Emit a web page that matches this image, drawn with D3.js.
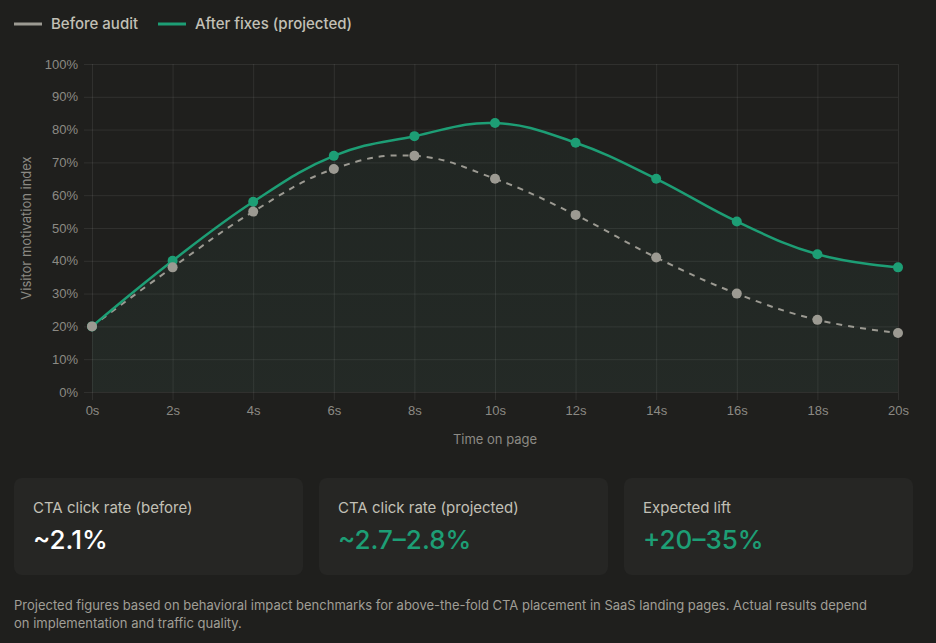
<!DOCTYPE html>
<html lang="en">
<head>
<meta charset="UTF-8">
<title>Visitor motivation</title>
<script src="https://d3js.org/d3.v7.min.js"></script>
<style>
  body, html { margin: 0; padding: 0; background: #1f1f1d; }
  svg { display: block; font-family: Inter, "Noto Sans", sans-serif; }
</style>
</head>
<body>
<script>
// chart data
const seconds = [0, 2, 4, 6, 8, 10, 12, 14, 16, 18, 20];
const beforeAudit = [20, 38, 55, 68, 72, 65, 54, 41, 30, 22, 18];
const afterFixes = [20, 40, 58, 72, 78, 82, 76, 65, 52, 42, 38];
const yTicks = [0, 10, 20, 30, 40, 50, 60, 70, 80, 90, 100];

const seriesNames = ["Before audit", "After fixes (projected)"];
const cardLabels = ["CTA click rate (before)", "CTA click rate (projected)", "Expected lift"];
const cardValues = ["~2.1%", "~2.7–2.8%", "+20–35%"];
const footnote = [
  "Projected figures based on behavioral impact benchmarks for above-the-fold CTA placement in SaaS landing pages. Actual results depend",
  "on implementation and traffic quality."
];

const width = 936, height = 643;
const green = "#1d9e75", gray = "#9c9a92";
const margin = { left: 92, right: 38, top: 64, bottom: 251 };

const svg = d3.select("body").append("svg")
  .attr("width", width).attr("height", height);

const x = d3.scaleLinear().domain([0, 20]).range([margin.left, width - margin.right]);
const y = d3.scaleLinear().domain([0, 100]).range([height - margin.bottom, margin.top]);

// gradient for the area under the projected line
const grad = svg.append("defs").append("linearGradient")
  .attr("id", "fillGrad").attr("x1", 0).attr("y1", 0).attr("x2", 0).attr("y2", 1);
grad.append("stop").attr("offset", "0%").attr("stop-color", "#3f8f76").attr("stop-opacity", 0.06);
grad.append("stop").attr("offset", "100%").attr("stop-color", "#4f8a77").attr("stop-opacity", 0.1);

// grid + axes
const gridColor = "rgba(255,255,255,0.08)";
const yAxis = svg.append("g")
  .attr("transform", `translate(${margin.left},0)`)
  .call(d3.axisLeft(y).tickValues(yTicks).tickFormat(d => d + "%")
    .tickSize(-(width - margin.left - margin.right)).tickPadding(14));
yAxis.select(".domain").remove();
yAxis.selectAll(".tick line").attr("stroke", gridColor).attr("x1", -8);
yAxis.selectAll(".tick text").attr("fill", "#8c8a84").style("font-size", "13px");

const xAxis = svg.append("g")
  .attr("transform", `translate(0,${y(0)})`)
  .call(d3.axisBottom(x).tickValues(seconds).tickFormat(d => d + "s")
    .tickSize(-(y(0) - margin.top)).tickPadding(14));
xAxis.select(".domain").remove();
xAxis.selectAll(".tick line").attr("stroke", gridColor).attr("y1", 8);
xAxis.selectAll(".tick text").attr("fill", "#8c8a84").style("font-size", "13px");

svg.append("text")
  .attr("x", (x(0) + x(20)) / 2).attr("y", 444)
  .attr("text-anchor", "middle").attr("fill", "#8c8a84")
  .style("font-size", "13px").text("Time on page");

svg.append("text")
  .attr("transform", `translate(31,${(y(0) + y(100)) / 2}) rotate(-90)`)
  .attr("text-anchor", "middle").attr("fill", "#8c8a84")
  .style("font-size", "13px").text("Visitor motivation index");

const curve = d3.curveCardinal.tension(-0.2);

// area under projected
svg.append("path")
  .datum(afterFixes)
  .attr("fill", "url(#fillGrad)")
  .attr("d", d3.area().x((d, i) => x(seconds[i])).y0(y(0)).y1(d => y(d)).curve(curve));

const line = d3.line().x((d, i) => x(seconds[i])).y(d => y(d)).curve(curve);

svg.append("path").datum(beforeAudit)
  .attr("fill", "none").attr("stroke", gray).attr("stroke-width", 2)
  .attr("stroke-dasharray", "6,6").attr("d", line);

svg.append("path").datum(afterFixes)
  .attr("fill", "none").attr("stroke", green).attr("stroke-width", 2.5)
  .attr("d", line);

svg.append("g").selectAll("circle").data(afterFixes).join("circle")
  .attr("cx", (d, i) => x(seconds[i])).attr("cy", d => y(d)).attr("r", 5)
  .attr("fill", green);

svg.append("g").selectAll("circle").data(beforeAudit).join("circle")
  .attr("cx", (d, i) => x(seconds[i])).attr("cy", d => y(d)).attr("r", 5)
  .attr("fill", gray);

// legend
const legendX = [14, 158];
const legend = svg.append("g").selectAll("g").data(seriesNames).join("g")
  .attr("transform", (d, i) => `translate(${legendX[i]},24)`);
legend.append("line").attr("x1", 0).attr("x2", 28).attr("y1", 0).attr("y2", 0)
  .attr("stroke", (d, i) => i ? green : gray).attr("stroke-width", 3);
legend.append("text").attr("x", 37).attr("y", 5)
  .attr("fill", "#c2c0b6").style("font-size", "15px").style("font-weight", 500)
  .text(d => d);

// metric cards
const cardW = 289, cardGap = 16;
const cards = svg.append("g").selectAll("g").data(cardLabels).join("g")
  .attr("transform", (d, i) => `translate(${14 + i * (cardW + cardGap)},478)`);
cards.append("rect").attr("width", cardW).attr("height", 97).attr("rx", 8)
  .attr("fill", "#262624");
cards.append("text").attr("x", 19).attr("y", 35)
  .attr("fill", "#c2c0b6").style("font-size", "15px").text(d => d);
cards.append("text").attr("x", 19).attr("y", 71)
  .attr("fill", (d, i) => i ? green : "#ffffff")
  .style("font-size", "26px").style("font-weight", 500)
  .text((d, i) => cardValues[i]);

svg.append("g").selectAll("text").data(footnote).join("text")
  .attr("x", 14).attr("y", (d, i) => 610 + i * 18)
  .attr("fill", "#a09e96").style("font-size", "13px").text(d => d);
</script>
</body>
</html>
